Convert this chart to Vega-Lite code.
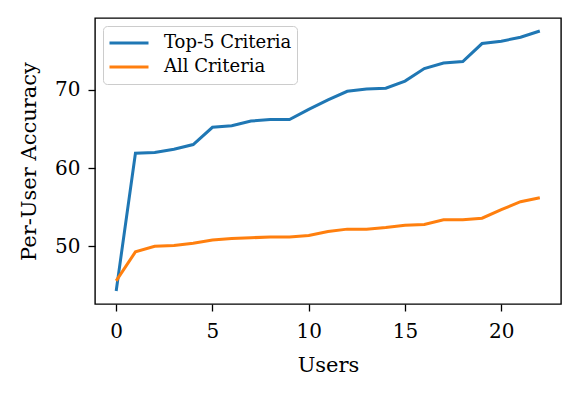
{
  "$schema": "https://vega.github.io/schema/vega-lite/v6.json",
  "autosize": "none",
  "width": 466,
  "height": 286,
  "padding": {"left": 95, "top": 18, "right": 19, "bottom": 93},
  "background": "white",
  "config": {
    "font": "DejaVu Serif",
    "view": {"stroke": "black", "strokeWidth": 1.4},
    "axis": {
      "domain": false,
      "grid": false,
      "ticks": true,
      "tickColor": "black",
      "tickSize": 7,
      "tickWidth": 1.3,
      "labelColor": "black",
      "labelFont": "DejaVu Serif",
      "labelFontSize": 20,
      "titleColor": "black",
      "titleFont": "DejaVu Serif",
      "titleFontSize": 21,
      "titleFontWeight": "normal"
    }
  },
  "data": {
    "values": [
      {"user": 0, "acc": 44.3, "series": "Top-5 Criteria"},
      {"user": 1, "acc": 61.9, "series": "Top-5 Criteria"},
      {"user": 2, "acc": 62.0, "series": "Top-5 Criteria"},
      {"user": 3, "acc": 62.4, "series": "Top-5 Criteria"},
      {"user": 4, "acc": 63.0, "series": "Top-5 Criteria"},
      {"user": 5, "acc": 65.2, "series": "Top-5 Criteria"},
      {"user": 6, "acc": 65.4, "series": "Top-5 Criteria"},
      {"user": 7, "acc": 66.0, "series": "Top-5 Criteria"},
      {"user": 8, "acc": 66.2, "series": "Top-5 Criteria"},
      {"user": 9, "acc": 66.2, "series": "Top-5 Criteria"},
      {"user": 10, "acc": 67.5, "series": "Top-5 Criteria"},
      {"user": 11, "acc": 68.7, "series": "Top-5 Criteria"},
      {"user": 12, "acc": 69.8, "series": "Top-5 Criteria"},
      {"user": 13, "acc": 70.1, "series": "Top-5 Criteria"},
      {"user": 14, "acc": 70.2, "series": "Top-5 Criteria"},
      {"user": 15, "acc": 71.1, "series": "Top-5 Criteria"},
      {"user": 16, "acc": 72.7, "series": "Top-5 Criteria"},
      {"user": 17, "acc": 73.4, "series": "Top-5 Criteria"},
      {"user": 18, "acc": 73.6, "series": "Top-5 Criteria"},
      {"user": 19, "acc": 75.9, "series": "Top-5 Criteria"},
      {"user": 20, "acc": 76.2, "series": "Top-5 Criteria"},
      {"user": 21, "acc": 76.7, "series": "Top-5 Criteria"},
      {"user": 22, "acc": 77.5, "series": "Top-5 Criteria"},
      {"user": 0, "acc": 45.6, "series": "All Criteria"},
      {"user": 1, "acc": 49.3, "series": "All Criteria"},
      {"user": 2, "acc": 50.0, "series": "All Criteria"},
      {"user": 3, "acc": 50.1, "series": "All Criteria"},
      {"user": 4, "acc": 50.4, "series": "All Criteria"},
      {"user": 5, "acc": 50.8, "series": "All Criteria"},
      {"user": 6, "acc": 51.0, "series": "All Criteria"},
      {"user": 7, "acc": 51.1, "series": "All Criteria"},
      {"user": 8, "acc": 51.2, "series": "All Criteria"},
      {"user": 9, "acc": 51.2, "series": "All Criteria"},
      {"user": 10, "acc": 51.4, "series": "All Criteria"},
      {"user": 11, "acc": 51.9, "series": "All Criteria"},
      {"user": 12, "acc": 52.2, "series": "All Criteria"},
      {"user": 13, "acc": 52.2, "series": "All Criteria"},
      {"user": 14, "acc": 52.4, "series": "All Criteria"},
      {"user": 15, "acc": 52.7, "series": "All Criteria"},
      {"user": 16, "acc": 52.8, "series": "All Criteria"},
      {"user": 17, "acc": 53.4, "series": "All Criteria"},
      {"user": 18, "acc": 53.4, "series": "All Criteria"},
      {"user": 19, "acc": 53.6, "series": "All Criteria"},
      {"user": 20, "acc": 54.7, "series": "All Criteria"},
      {"user": 21, "acc": 55.7, "series": "All Criteria"},
      {"user": 22, "acc": 56.2, "series": "All Criteria"}
    ]
  },
  "mark": {"type": "line", "strokeWidth": 3, "clip": true},
  "encoding": {
    "x": {
      "field": "user",
      "type": "quantitative",
      "title": "Users",
      "scale": {"domain": [-1.1, 23.1], "nice": false, "zero": false},
      "axis": {"values": [0, 5, 10, 15, 20], "labelPadding": 10, "titlePadding": 13}
    },
    "y": {
      "field": "acc",
      "type": "quantitative",
      "title": "Per-User Accuracy",
      "scale": {"domain": [42.64, 79.16], "nice": false, "zero": false},
      "axis": {"values": [50, 60, 70], "labelPadding": 8, "titlePadding": 15}
    },
    "color": {
      "field": "series",
      "type": "nominal",
      "scale": {"domain": ["Top-5 Criteria", "All Criteria"], "range": ["#1f77b4", "#ff7f0e"]},
      "legend": {
        "title": null,
        "orient": "none",
        "legendX": 8,
        "legendY": 8,
        "symbolType": "stroke",
        "symbolSize": 1521,
        "symbolStrokeWidth": 3,
        "clipHeight": 24,
        "labelFont": "DejaVu Serif",
        "labelFontSize": 18,
        "labelColor": "black",
        "labelOffset": 14,
        "rowPadding": 0,
        "padding": 5,
        "strokeColor": "#cccccc",
        "fillColor": "white",
        "cornerRadius": 4
      }
    }
  }
}
